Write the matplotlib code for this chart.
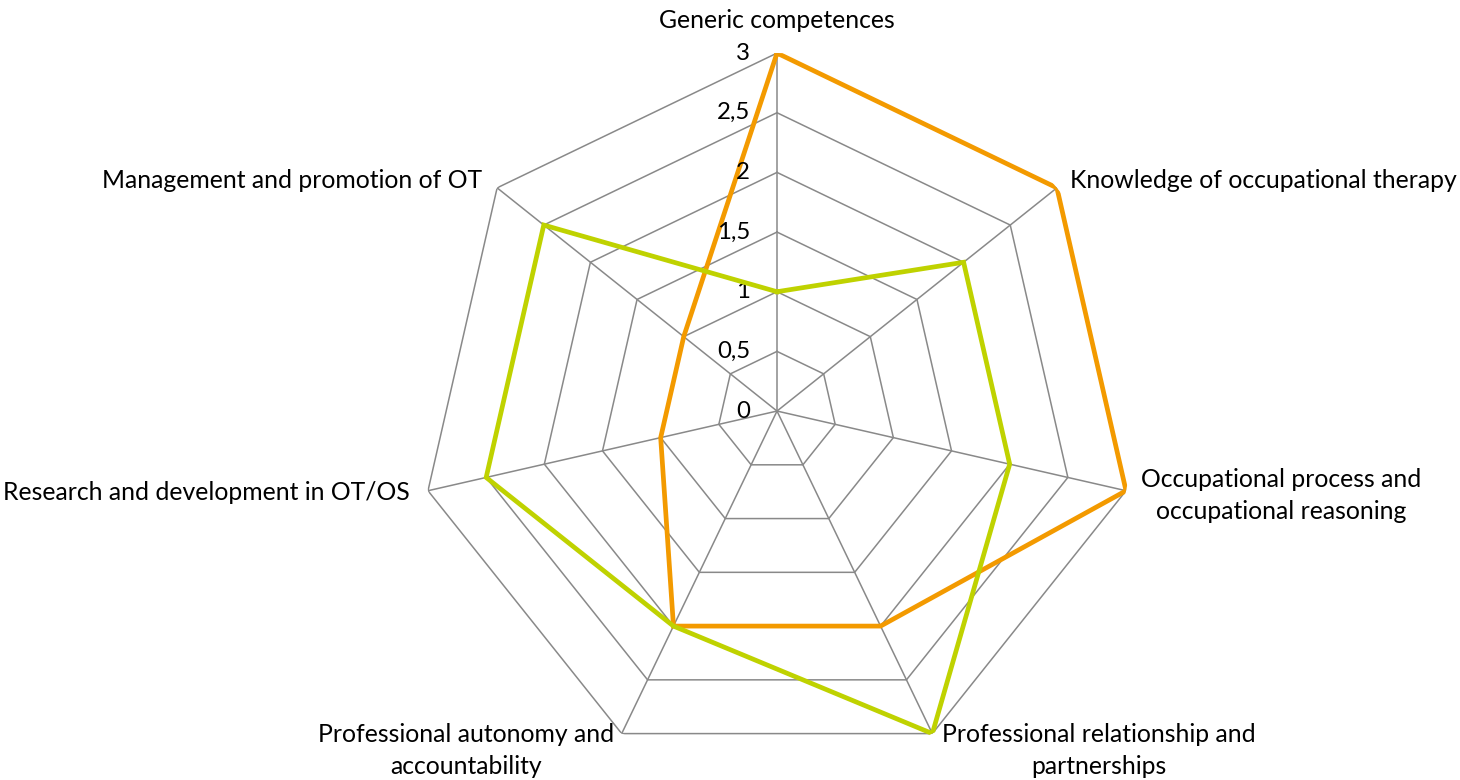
import matplotlib
matplotlib.use('Agg')
import matplotlib.pyplot as plt
import numpy as np

categories = [
    'Generic competences',
    'Knowledge of occupational therapy',
    'Occupational process and\noccupational reasoning',
    'Professional relationship and\npartnerships',
    'Professional autonomy and\naccountability',
    'Research and development in OT/OS',
    'Management and promotion of OT',
]
series_orange = [3, 3, 3, 2, 2, 1, 1]
series_green = [1, 2, 2, 3, 2, 2.5, 2.5]
tick_values = [0, 0.5, 1, 1.5, 2, 2.5, 3]
tick_labels = ['0', '0,5', '1', '1,5', '2', '2,5', '3']

plt.rcParams['font.family'] = ['Lato', 'DejaVu Sans']

fig = plt.figure(figsize=(14.6, 7.8), dpi=100)
ax = fig.add_axes([0.2870, 0.014, 0.4904, 0.918], projection='polar')
ax.set_theta_zero_location('N')
ax.set_theta_direction(-1)
ax.set_ylim(0, 3)
ax.grid(False)
ax.spines['polar'].set_visible(False)
ax.set_xticks([])
ax.set_yticks([])
ax.patch.set_alpha(0)

n = len(categories)
angles = np.linspace(0, 2 * np.pi, n, endpoint=False)
closed = np.append(angles, angles[0])

grid_color = '#898989'
# polygon grid rings
for v in tick_values[1:]:
    ax.plot(closed, [v] * (n + 1), color=grid_color, lw=1.1, zorder=1)
# spokes
for a in angles:
    ax.plot([a, a], [0, 3], color=grid_color, lw=1.1, zorder=1)

# data series
ax.plot(closed, series_orange + series_orange[:1], color='#F39A00', lw=3.4, zorder=3,
        solid_joinstyle='miter')
ax.plot(closed, series_green + series_green[:1], color='#BFD200', lw=3.4, zorder=4,
        solid_joinstyle='miter')

# radial tick labels along the top axis
for v, lab in zip(tick_values, tick_labels):
    ax.annotate(lab, xy=(0, v), xytext=(-27, 0), textcoords='offset pixels',
                ha='right', va='center', fontsize=17.3)

# category labels
label_offsets = [
    ((0, 33), 'center', 'center'),
    ((13, 7), 'left', 'center'),
    ((15, -5), 'left', 'center'),
    ((10, -17), 'left', 'center'),
    ((-8, -17), 'right', 'center'),
    ((-18, -2), 'right', 'center'),
    ((-15, 7), 'right', 'center'),
]
for a, lab, (off, ha, va) in zip(angles, categories, label_offsets):
    ax.annotate(lab, xy=(a, 3), xytext=off, textcoords='offset pixels',
                ha=ha, va=va, multialignment='center', fontsize=17.8,
                linespacing=1.5, annotation_clip=False)

fig.savefig('out.png', dpi=100)
